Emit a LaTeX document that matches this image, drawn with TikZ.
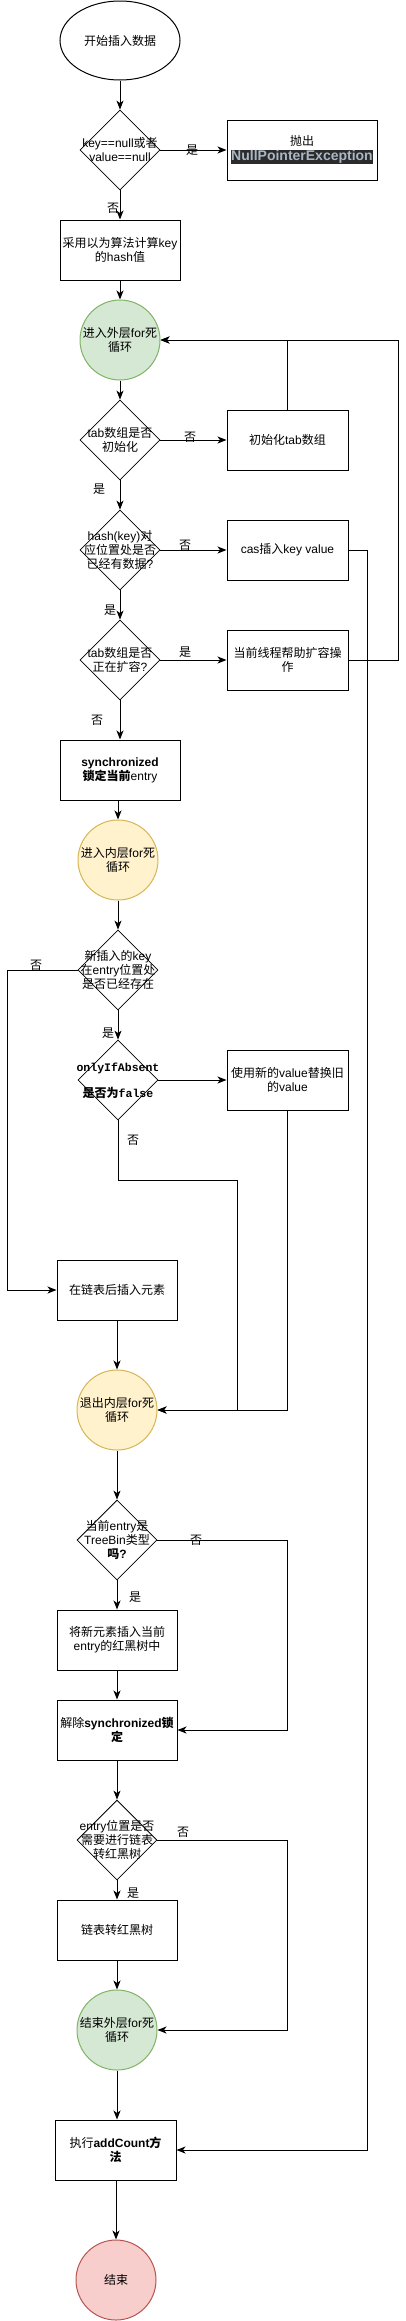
\documentclass[tikz,border=0pt]{standalone}
\usepackage{fontspec}
\setmainfont{Liberation Sans}
\newfontfamily\zhfont{Noto Sans CJK SC}
\newfontfamily\monof{Liberation Mono}
\usetikzlibrary{arrows.meta,shapes.geometric,calc}
\definecolor{greenfill}{HTML}{D5E8D4}
\definecolor{greenline}{HTML}{82B366}
\definecolor{yelfill}{HTML}{FFF2CC}
\definecolor{yelline}{HTML}{D6B656}
\definecolor{redfill}{HTML}{F8CECC}
\definecolor{redline}{HTML}{B85450}
\definecolor{npebg}{HTML}{2B2B2B}
\definecolor{npefg}{HTML}{A9B7C6}
\newcommand\zh[1]{{\zhfont #1}}
\begin{document}
\begin{tikzpicture}[x=1pt,y=-1pt,
  every node/.style={font=\fontsize{12}{14}\selectfont},
  box/.style={draw,line width=1pt,minimum width=120pt,minimum height=60pt,inner sep=0pt,align=center},
  dia/.style={draw,diamond,minimum width=80pt,minimum height=80pt,inner sep=0pt,line width=0.8pt},
  loopc/.style={circle,minimum size=80pt,inner sep=0pt,line width=1pt},
  greenc/.style={loopc,draw=greenline,fill=greenfill},
  yelc/.style={loopc,draw=yelline,fill=yelfill},
  redc/.style={loopc,draw=redline,fill=redfill},
  txt/.style={align=center,inner sep=0pt},
  lbl/.style={inner sep=0pt},
  arr/.style={draw,line width=1pt,-{Stealth[length=9pt,width=7pt,inset=2.5pt]}},
]
\useasboundingbox (0,0) rectangle (406,2321);

% nodes
\node[ellipse,draw,line width=1pt,minimum width=120pt,minimum height=79pt,inner sep=0pt] (start) at (120,40.5) {\zh{开始插入数据}};
\node[dia] (d1) at (120,150) {};
\node[txt] (d1t) at (d1) {key==null\zh{或者}\\value==null};
\node[box,minimum width=150pt] (npe) at (302,150) {\zh{抛出}\\[1pt]{\setlength{\fboxsep}{0.5pt}\colorbox{npebg}{\textcolor{npefg}{\bfseries\fontsize{14}{16}\selectfont NullPointerException}}}};
\node[box] (hash) at (120,250) {\zh{采用以为算法计算}key\\\zh{的}hash\zh{值}};
\node[greenc] (co) at (120,340) {};
\node[txt] (cot) at (co) {\zh{进入外层}for\zh{死}\\\zh{循环}};
\node[dia] (d2) at (120,440) {};
\node[txt] (d2t) at (d2) {tab\zh{数组是否}\\\zh{初始化}};
\node[box,minimum width=121pt] (init) at (287.5,440) {\zh{初始化}tab\zh{数组}};
\node[dia] (d3) at (120,550) {};
\node[txt] (d3t) at (d3) {hash(key)\zh{对}\\\zh{应位置处是否}\\\zh{已经有数据}?};
\node[box,minimum width=121pt] (cas) at (287.5,550) {cas\zh{插入}key value};
\node[dia] (d4) at (120,660) {};
\node[txt] (d4t) at (d4) {tab\zh{数组是否}\\\zh{正在扩容}?};
\node[box,minimum width=121pt] (help) at (287.5,660) {\zh{当前线程帮助扩容操}\\\zh{作}};
\node[box] (sync) at (120,770) {\bfseries synchronized\\\zh{\bfseries 锁定当前}entry};
\node[yelc] (ci) at (118,860) {};
\node[txt] (cit) at (ci) {\zh{进入内层}for\zh{死}\\\zh{循环}};
\node[dia] (d5) at (118,970) {};
\node[txt] (d5t) at (d5) {\zh{新插入的}key\\\zh{在}entry\zh{位置处}\\\zh{是否已经存在}};
\node[dia] (d6) at (118,1080) {};
\node[txt] (d6t) at (118,1081) {{\monof\bfseries\fontsize{11.5}{13}\selectfont onlyIfAbsent}\\[12pt]{\zh{\bfseries 是否为}\monof\bfseries\fontsize{11.5}{13}\selectfont false}};
\node[box,minimum width=121pt] (rep) at (287.5,1080) {\zh{使用新的}value\zh{替换旧}\\\zh{的}value};
\node[box] (app) at (117,1290) {\zh{在链表后插入元素}};
\node[yelc] (cexit) at (117,1410) {};
\node[txt] (cexitt) at (cexit) {\zh{退出内层}for\zh{死}\\\zh{循环}};
\node[dia] (d7) at (117,1540) {};
\node[txt] (d7t) at (d7) {\zh{当前}entry\zh{是}\\TreeBin\zh{类型}\\\zh{\bfseries 吗}\bfseries ?};
\node[box] (tree) at (117,1640) {\zh{将新元素插入当前}\\entry\zh{的红黑树中}};
\node[box] (unlock) at (117,1730) {\zh{解除}\textbf{synchronized}\zh{\bfseries 锁}\\\zh{\bfseries 定}};
\node[dia] (d8) at (117,1840) {};
\node[txt] (d8t) at (d8) {entry\zh{位置是否}\\\zh{需要进行链表}\\\zh{转红黑树}};
\node[box] (conv) at (117,1930) {\zh{链表转红黑树}};
\node[greenc] (cend) at (117,2030) {};
\node[txt] (cendt) at (cend) {\zh{结束外层}for\zh{死}\\\zh{循环}};
\node[box,minimum width=121pt] (add) at (115.5,2150) {\zh{执行}\textbf{addCount}\zh{\bfseries 方}\\\zh{\bfseries 法}};
\node[redc] (endc) at (116,2280) {};
\node[txt] (endct) at (endc) {\zh{结束}};

% helper coordinates
\coordinate (r1) at (367,550);
\coordinate (r2) at (398,660);
\coordinate (l5) at (7,970);
\coordinate (k6) at (237,1180);
\coordinate (k7) at (287,1540);
\coordinate (k8) at (287,1840);

% connectors
\path[arr] (start) -- (d1);
\path[arr] (d1) -- (npe);
\path[arr] (d1) -- (hash);
\path[arr] (hash) -- (co);
\path[arr] (co) -- (d2);
\path[arr] (d2) -- (init);
\path[arr] (init.north) |- (co.east);
\path[arr] (d2) -- (d3);
\path[arr] (d3) -- (cas);
\path[arr] (cas.east) -- (r1) |- (add.east);
\path[arr] (d3) -- (d4);
\path[arr] (d4) -- (help);
\path[arr] (help.east) -- (r2) |- (co.east);
\path[arr] (d4) -- (sync);
\path[arr] (sync.south -| ci) -- (ci);
\path[arr] (ci) -- (d5);
\path[arr] (d5.west) -- (l5) |- (app.west);
\path[arr] (d5) -- (d6);
\path[arr] (d6) -- (rep);
\path[arr] (d6.south) |- (k6) |- (cexit.east);
\path[arr] (rep.south) |- (cexit.east);
\path[arr] (app.south -| cexit) -- (cexit);
\path[arr] (cexit) -- (d7);
\path[arr] (d7.east) -- (k7) |- (unlock.east);
\path[arr] (d7) -- (tree);
\path[arr] (tree) -- (unlock);
\path[arr] (unlock) -- (d8);
\path[arr] (d8.east) -- (k8) |- (cend.east);
\path[arr] (d8) -- (conv);
\path[arr] (conv) -- (cend);
\path[arr] (cend.south) -- (cend.south |- add.north);
\path[arr] (add.south -| endc) -- (endc);

% labels
\node[lbl] (y1) at (192,150) {\zh{是}};
\node[lbl] (n1) at (113,208) {\zh{否}};
\node[lbl] (n2) at (190,437) {\zh{否}};
\node[lbl] (y2) at (99,489) {\zh{是}};
\node[lbl] (n3) at (185,545) {\zh{否}};
\node[lbl] (y3) at (110,610) {\zh{是}};
\node[lbl] (y4) at (185,652) {\zh{是}};
\node[lbl] (n4) at (97,720) {\zh{否}};
\node[lbl] (n5) at (36,965) {\zh{否}};
\node[lbl] (y5) at (108,1033) {\zh{是}};
\node[lbl] (n6) at (133,1140) {\zh{否}};
\node[lbl] (n7) at (196,1540) {\zh{否}};
\node[lbl] (y7) at (135,1597) {\zh{是}};
\node[lbl] (n8) at (183,1832) {\zh{否}};
\node[lbl] (y8) at (133,1893) {\zh{是}};
\end{tikzpicture}
\end{document}
